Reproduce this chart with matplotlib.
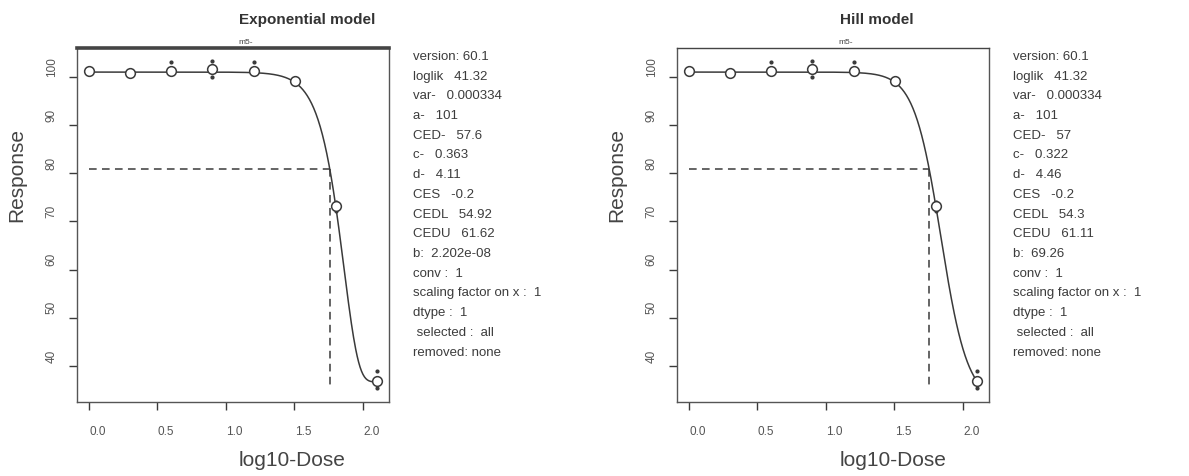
import numpy as np
import matplotlib
matplotlib.use("Agg")
import matplotlib.pyplot as plt
from matplotlib.transforms import ScaledTranslation

# ---- data ----
dose = [1, 2, 4, 8, 16, 32, 64, 128]
response = [101.3, 100.9, 101.3, 101.6, 101.3, 99.2, 73.1, 36.9]
resp_upper = [101.8, 101.3, 103.0, 103.3, 103.1, 99.7, 74.0, 38.9]
resp_lower = [100.8, 100.5, 100.6, 100.0, 100.7, 98.7, 72.2, 35.5]

exp_params = dict(a=101.0, b=2.202e-08, c=0.363, d=4.11, CED=57.6, CES=-0.2)
hill_params = dict(a=101.0, b=69.26, c=0.322, d=4.46, CED=57.0, CES=-0.2)
ced_line_bottom = 35.3

xticks = [0.0, 0.5, 1.0, 1.5, 2.0]
xtick_labels = ["0.0", "0.5", "1.0", "1.5", "2.0"]
yticks = [40, 50, 60, 70, 80, 90, 100]

titles = ["Exponential model", "Hill model"]
exp_text = ["version: 60.1", "loglik   41.32", "var-   0.000334", "a-   101",
            "CED-   57.6", "c-   0.363", "d-   4.11", "CES   -0.2",
            "CEDL   54.92", "CEDU   61.62", "b:  2.202e-08", "conv :  1",
            "scaling factor on x :  1", "dtype :  1", " selected :  all",
            "removed: none"]
hill_text = ["version: 60.1", "loglik   41.32", "var-   0.000334", "a-   101",
             "CED-   57", "c-   0.322", "d-   4.46", "CES   -0.2",
             "CEDL   54.3", "CEDU   61.11", "b:  69.26", "conv :  1",
             "scaling factor on x :  1", "dtype :  1", " selected :  all",
             "removed: none"]


def exp_model(x, p):
    return p["a"] * (p["c"] - (p["c"] - 1) * np.exp(-p["b"] * x ** p["d"]))


def hill_model(x, p):
    return p["a"] * (1 + (p["c"] - 1) * x ** p["d"] / (p["b"] ** p["d"] + x ** p["d"]))


plt.rcParams['font.family'] = ['Liberation Sans', 'DejaVu Sans']
W, H = 1189, 476
fig = plt.figure(figsize=(W / 100, H / 100), dpi=100)

ink = "#3a3a3a"

panels = [
    dict(left=77, title=titles[0], model=exp_model, p=exp_params, text=exp_text,
         title_x=307, m5_x=246, text_x=413, lab_x=292, topw=2.6),
    dict(left=677, title=titles[1], model=hill_model, p=hill_params, text=hill_text,
         title_x=877, m5_x=846, text_x=1013, lab_x=893, topw=1.0),
]

logd = np.log10(dose)
xx = np.linspace(logd.min(), logd.max(), 400)

for pn in panels:
    ax = fig.add_axes([pn["left"] / W, (H - 402) / H, 312 / W, 354 / H])
    p = pn["p"]
    yy = pn["model"](10 ** xx, p)
    ax.plot(xx, yy, color=ink, lw=1.1, zorder=2)
    ax.plot(logd, resp_upper, '.', ms=4, color=ink, zorder=3)
    ax.plot(logd, resp_lower, '.', ms=4, color=ink, zorder=3)
    ax.plot(logd, response, 'o', ms=7, mfc='white', mec=ink, mew=1.1, zorder=4)
    ces_y = p["a"] * (1 + p["CES"])
    lced = np.log10(p["CED"])
    ax.plot([logd.min(), lced], [ces_y, ces_y], color=ink, lw=1.1,
            linestyle=(0, (5, 3.5)), zorder=1)
    ax.plot([lced, lced], [ces_y, ced_line_bottom], color=ink, lw=1.1,
            linestyle=(0, (5, 3.5)), zorder=1)

    span = logd.max() - logd.min()
    ax.set_xlim(logd.min() - 0.04 * span, logd.max() + 0.04 * span)
    ax.set_ylim(32.5, 106.0)
    ax.set_xticks(xticks)
    ax.set_xticklabels(xtick_labels)
    ax.set_yticks(yticks)
    ax.set_yticklabels([str(v) for v in yticks], rotation=90, va='center')
    ax.tick_params(axis='both', direction='out', length=6, width=1.0,
                   colors=ink, labelcolor="#555555", labelsize=8.5)
    ax.tick_params(axis='x', pad=11)
    ax.tick_params(axis='y', pad=8)
    for lab in ax.get_xticklabels():
        lab.set_transform(lab.get_transform() + ScaledTranslation(0.09, 0, fig.dpi_scale_trans))
    for lab in ax.get_yticklabels():
        lab.set_transform(lab.get_transform() + ScaledTranslation(0, 0.1, fig.dpi_scale_trans))
    for s in ax.spines.values():
        s.set_color("#555555")
        s.set_linewidth(1.0)
    ax.spines['top'].set_linewidth(pn["topw"])
    ax.spines['top'].set_color("#444444")

    fig.text(pn["title_x"] / W, 1 - 20 / H, pn["title"], ha='center', va='center',
             fontsize=11, fontweight='bold', color="#333333")
    fig.text(pn["m5_x"] / W, 1 - 43 / H, "m5-", ha='center', va='center',
             fontsize=6, color="#444444")
    fig.text(pn["lab_x"] / W, 1 - 460 / H, "log10-Dose", ha='center', va='center',
             fontsize=15, color="#444444")
    fig.text((pn["left"] - 60) / W, 1 - 175 / H, "Response", ha='center', va='center',
             rotation=90, fontsize=15, color="#444444")
    for i, line in enumerate(pn["text"]):
        fig.text(pn["text_x"] / W, 1 - (57 + i * 19.7) / H, line, ha='left',
                 va='center', fontsize=9.5, color="#3c3c3c")

fig.savefig("out.png", dpi=100, facecolor='white')
